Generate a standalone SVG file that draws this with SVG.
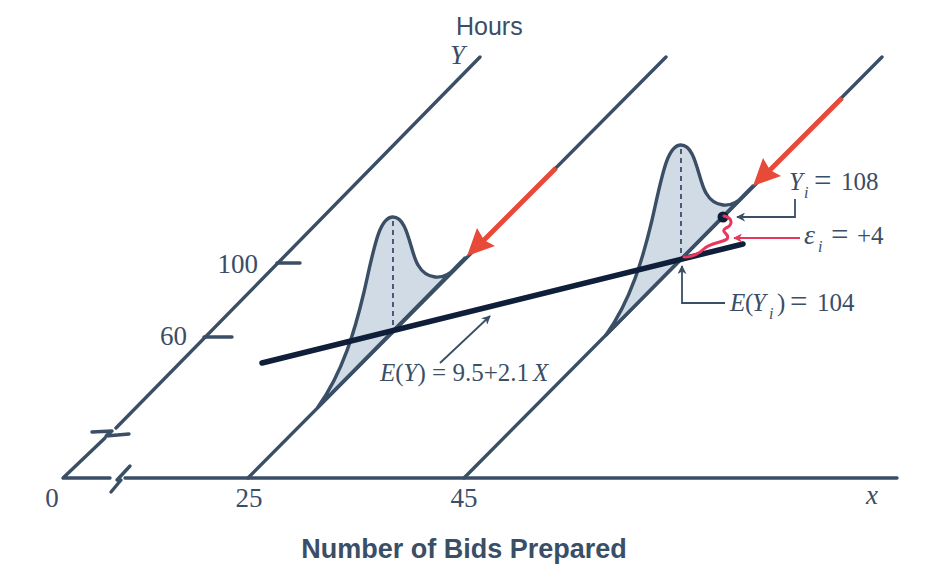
<svg xmlns="http://www.w3.org/2000/svg" width="944" height="582" viewBox="0 0 944 582">
<style>
.ax{fill:none;stroke:#3a4e66;stroke-width:3.4;stroke-linecap:round;stroke-linejoin:round}
.dist{fill:#d1dbe5;stroke:#3a4e66;stroke-width:3.4;stroke-linejoin:round}
.dash{fill:none;stroke:#3a4e66;stroke-width:1.8;stroke-dasharray:5,4}
.call{fill:none;stroke:#3a4e66;stroke-width:1.8}
.red{fill:none;stroke:#e84a3a;stroke-width:5}
.serif{font-family:"Liberation Serif","Times New Roman",serif;fill:#3a4e66;font-size:25px}
.big{font-size:27px}
.it{font-style:italic}
.sub{font-style:italic;font-size:16px}
.eq{font-size:31px}
.sans{font-family:"Liberation Sans",Arial,sans-serif;fill:#3a4e66}
</style>
<defs>
<marker id="ah" viewBox="0 0 10 10" refX="9" refY="5" markerWidth="9" markerHeight="9" markerUnits="userSpaceOnUse" orient="auto"><path d="M0,0 L10,5 L0,10 L3,5 Z" fill="#3a4e66"/></marker>
<marker id="ahp" viewBox="0 0 10 10" refX="9" refY="5" markerWidth="9" markerHeight="9" markerUnits="userSpaceOnUse" orient="auto"><path d="M0,0 L10,5 L0,10 L3,5 Z" fill="#e8365d"/></marker>
</defs>
<g id="axes">
<path class="ax" d="M105,438 L63,478 L110,478"/>
<path class="ax" d="M125,478 L897,478"/>
<path class="ax" d="M111,492 L121,480 L117,480 L130,466" stroke-width="3.8"/>
<path class="ax" d="M92,432 L112,431 L106,436 L129,434" stroke-width="3.8"/>
<path class="ax" d="M116,428 L480,57"/>
<path class="ax" d="M277,263 L300,263 M204,337 L232,337"/>
<path class="ax" d="M248,478 L666,57"/>
<path class="ax" d="M464,478 L882,57"/>
</g>
<g id="dist1">
<path class="dist" d="M318,407 C343,372 355,330 364,292 C374,248 379,217 393,217 C408,217 410,252 418,265 C426,279 443,282 455,268 L465,258 Z"/>
<line class="dash" x1="393" y1="221" x2="393" y2="330"/>
</g>
<g id="dist2">
<path class="dist" d="M606,335 C631,300 643,258 652,220 C662,176 667,145 681,145 C696,145 698,180 706,193 C714,207 731,210 743,196 L753,186 Z"/>
<line class="dash" x1="681" y1="149" x2="681" y2="258"/>
</g>
<g id="regression">
<line x1="262" y1="363" x2="743" y2="244" stroke="#0f1f3a" stroke-width="5.5" stroke-linecap="round"/>
</g>
<g id="arrows">
<line class="red" x1="556" y1="168" x2="482" y2="242"/>
<path d="M467,256 L477,228 L484,240 L495,246 Z" fill="#e84a3a"/>
<line class="red" x1="842" y1="98" x2="768" y2="172"/>
<path d="M753,186 L763,158 L770,170 L781,176 Z" fill="#e84a3a"/>
<circle cx="723" cy="217" r="5.5" fill="#0f1f3a"/>
<path d="M724,216 C733,218 733,225 726,228 C719,232 731,234 727,239 C722,243 712,242 705,248 C699,254 692,257 684,257" fill="none" stroke="#e8365d" stroke-width="3" stroke-linecap="round"/>
<path class="call" d="M795,199 L795,217 L737,217" marker-end="url(#ah)"/>
<path d="M800,238 L734,238" fill="none" stroke="#e8365d" stroke-width="1.8" marker-end="url(#ahp)"/>
<path class="call" d="M725,303 L682,303 L682,266" marker-end="url(#ah)"/>
<path class="call" d="M440,363 L490,316" marker-end="url(#ah)"/>
</g>
<g id="labels">
<text class="sans" x="456" y="35" font-size="25">Hours</text>
<text class="serif it big" x="450" y="64">Y</text>
<text class="serif big" x="258" y="273" text-anchor="end">100</text>
<text class="serif big" x="187" y="345" text-anchor="end">60</text>
<text class="serif big" x="52" y="507" text-anchor="middle">0</text>
<text class="serif big" x="249" y="507" text-anchor="middle">25</text>
<text class="serif big" x="464" y="507" text-anchor="middle">45</text>
<text class="serif it big" x="866" y="504">x</text>
<text class="serif"><tspan class="it" x="789" y="190">Y</tspan><tspan class="sub" x="804" y="198">i</tspan><tspan class="eq" x="814" y="191">=</tspan><tspan x="841" y="190">108</tspan></text>
<text class="serif"><tspan class="it" font-size="28" x="804" y="244">ε</tspan><tspan class="sub" x="818" y="252">i</tspan><tspan class="eq" x="831" y="245">=</tspan><tspan x="857" y="244">+4</tspan></text>
<text class="serif"><tspan class="it" x="730" y="311">E</tspan><tspan x="745" y="311">(</tspan><tspan class="it" x="752" y="311">Y</tspan><tspan class="sub" x="769" y="319">i</tspan><tspan x="777" y="311">)</tspan><tspan class="eq" x="790" y="312">=</tspan><tspan x="817" y="311">104</tspan></text>
<text class="serif" font-size="22"><tspan class="it" x="380" y="381">E</tspan>(<tspan class="it">Y</tspan>) <tspan font-size="25">=</tspan> 9.5+2.1<tspan class="it" x="533">X</tspan></text>
<text class="sans" x="464" y="558" font-size="27" font-weight="bold" text-anchor="middle">Number of Bids Prepared</text>
</g>
</svg>
